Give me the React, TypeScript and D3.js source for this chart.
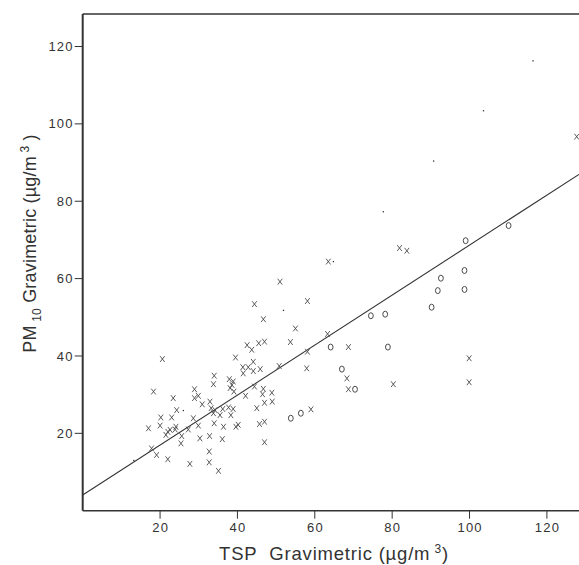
import React from "react";
import * as d3 from "d3";

// ---- data (TSP vs PM10 gravimetric, µg/m3) ----
const crossTSP = [51.0, 44.4, 46.7, 55.0, 53.7, 20.6, 42.5, 43.7, 45.5, 47.0, 39.5, 44.1, 41.4, 42.8, 41.5, 44.1, 45.9, 50.8, 34.0, 33.8, 37.9, 38.9, 38.1, 39.1, 38.6, 18.3, 28.9, 29.9, 28.9, 23.4, 30.9, 32.9, 33.2, 34.2, 33.8, 35.5, 37.7, 38.9, 38.3, 44.4, 46.7, 48.9, 42.1, 46.5, 47.0, 49.0, 45.0, 24.3, 23.0, 20.2, 17.0, 20.0, 22.0, 22.6, 21.5, 24.1, 25.6, 25.4, 27.3, 28.6, 29.9, 30.3, 32.8, 34.0, 36.4, 36.1, 39.6, 40.2, 45.7, 47.0, 47.0, 17.8, 19.1, 22.0, 27.7, 32.7, 32.7, 35.1, 36.2, 23.9, 63.5, 81.9, 83.8, 58.1, 63.3, 58.1, 68.7, 57.9, 68.3, 68.7, 80.3, 99.9, 99.9, 59.0, 127.7];
const crossPM10 = [59.2, 53.4, 49.5, 47.1, 43.6, 39.2, 42.8, 41.6, 43.3, 43.7, 39.6, 38.5, 37.1, 37.1, 35.5, 36.1, 36.6, 37.4, 34.9, 32.7, 34.0, 33.4, 31.7, 30.8, 32.5, 30.8, 31.4, 29.7, 29.1, 29.1, 27.5, 28.2, 26.5, 26.0, 25.2, 24.7, 26.7, 26.3, 24.7, 32.1, 31.5, 30.5, 29.7, 30.1, 27.9, 28.2, 26.5, 26.0, 24.1, 24.1, 21.3, 22.0, 20.4, 20.9, 19.6, 21.7, 19.3, 17.4, 21.0, 23.9, 22.0, 18.7, 19.3, 22.6, 21.7, 18.5, 21.7, 22.2, 22.4, 23.0, 17.7, 16.1, 14.4, 13.3, 12.1, 15.3, 12.5, 10.3, 26.3, 21.0, 64.4, 67.9, 67.2, 54.2, 45.7, 41.1, 42.3, 36.8, 34.2, 31.4, 32.7, 39.4, 33.2, 26.2, 96.7];

const circleTSP = [53.8, 56.4, 67.0, 70.4, 64.1, 78.9, 74.5, 78.2, 90.2, 91.8, 92.6, 98.7, 98.7, 99.0, 110.1];
const circlePM10 = [23.9, 25.2, 36.6, 31.4, 42.3, 42.3, 50.4, 50.8, 52.6, 56.9, 60.1, 62.1, 57.2, 69.8, 73.7];

const dotTSP = [13.2, 26.0, 51.9, 64.8, 77.7, 90.7, 103.6, 116.4];
const dotPM10 = [13.0, 25.9, 51.8, 64.4, 77.3, 90.4, 103.4, 116.3];

const fitIntercept = 4.06;
const fitSlope = 0.646;

const tickValues = [20, 40, 60, 80, 100, 120];

export default function App() {
  const W = 579;
  const H = 565;
  const left = 82.7;
  const bottom = 510.7;
  const top = 14;
  const right = 579;
  const xMax = 128.3;
  const yMax = (bottom - top) / ((right - left) / xMax);

  const x = d3.scaleLinear().domain([0, xMax]).range([left, right]);
  const y = d3.scaleLinear().domain([0, yMax]).range([bottom, top]);

  const fitLine = d3
    .line<number>()
    .x((d) => x(d))
    .y((d) => y(fitIntercept + fitSlope * d));

  const ink = "#333";
  const markInk = "#4a4a4a";
  const font = "'Liberation Sans', Arial, sans-serif";

  return (
    <svg
      width={W}
      height={H}
      style={{ position: "absolute", left: 0, top: 0, background: "#fff" }}
      fontFamily={font}
    >
      <defs>
        <clipPath id="plotClip">
          <rect x={left} y={top} width={right - left} height={bottom - top} />
        </clipPath>
      </defs>
      <rect x={0} y={0} width={W} height={H} fill="#fff" />

      {/* frame */}
      <line x1={left} x2={right} y1={top} y2={top} stroke={ink} strokeWidth={1.5} />
      <line x1={left} x2={right} y1={bottom} y2={bottom} stroke={ink} strokeWidth={1.5} />
      <line x1={left} x2={left} y1={top} y2={bottom} stroke={ink} strokeWidth={2} />

      {/* y ticks */}
      {tickValues.map((t) => (
        <g key={"y" + t}>
          <line x1={left - 8} x2={left} y1={y(t)} y2={y(t)} stroke={ink} strokeWidth={1} />
          <text
            x={left - 9}
            y={y(t)}
            dy="0.35em"
            textAnchor="end"
            fontSize={13}
            letterSpacing={1.2}
            fill={ink}
          >
            {t}
          </text>
        </g>
      ))}

      {/* x ticks */}
      {tickValues.map((t) => (
        <g key={"x" + t}>
          <line x1={x(t)} x2={x(t)} y1={bottom} y2={bottom + 8} stroke={ink} strokeWidth={1} />
          <text
            x={x(t) + 0.6}
            y={bottom + 21}
            textAnchor="middle"
            fontSize={13}
            letterSpacing={1.2}
            fill={ink}
          >
            {t}
          </text>
        </g>
      ))}

      <g clipPath="url(#plotClip)">
        {/* regression line */}
        <path d={fitLine([0, xMax]) || ""} fill="none" stroke={ink} strokeWidth={1.1} />

        {/* dots */}
        {dotTSP.map((v, i) => (
          <rect key={"d" + i} x={x(v) - 0.6} y={y(dotPM10[i]) - 0.6} width={1.3} height={1.3} fill={ink} />
        ))}

        {/* circles */}
        {circleTSP.map((v, i) => (
          <ellipse
            key={"c" + i}
            cx={x(v)}
            cy={y(circlePM10[i])}
            rx={2.4}
            ry={3}
            fill="none"
            stroke={markInk}
            strokeWidth={1}
          />
        ))}

        {/* crosses */}
        {crossTSP.map((v, i) => {
          const cx = x(v);
          const cy = y(crossPM10[i]);
          return (
            <path
              key={"x" + i}
              d={`M${cx - 2.3},${cy - 2.9}L${cx + 2.3},${cy + 2.9}M${cx + 2.3},${cy - 2.9}L${cx - 2.3},${cy + 2.9}`}
              stroke={markInk}
              strokeWidth={0.9}
              fill="none"
            />
          );
        })}
      </g>

      {/* axis titles */}
      <text x={334} y={560} textAnchor="middle" fontSize={18.5} letterSpacing={0.8} fill={ink}>
        TSP{"\u00a0\u00a0"}Gravimetric (µg/m
        <tspan dy={-7} fontSize={12}>{"\u00a0"}3</tspan>
        <tspan dy={7}>)</tspan>
      </text>
      <text
        transform={`translate(36,${243.5}) rotate(-90)`}
        textAnchor="middle"
        fontSize={18}
        letterSpacing={0.2}
        fill={ink}
      >
        PM
        <tspan dy={5} fontSize={12}>{"\u00a0"}10</tspan>
        <tspan dy={-5}>{"\u00a0"}Gravimetric (µg/m</tspan>
        <tspan dy={-7} fontSize={12}>{"\u00a0"}3</tspan>
        <tspan dy={7}>{"\u00a0"})</tspan>
      </text>
    </svg>
  );
}
